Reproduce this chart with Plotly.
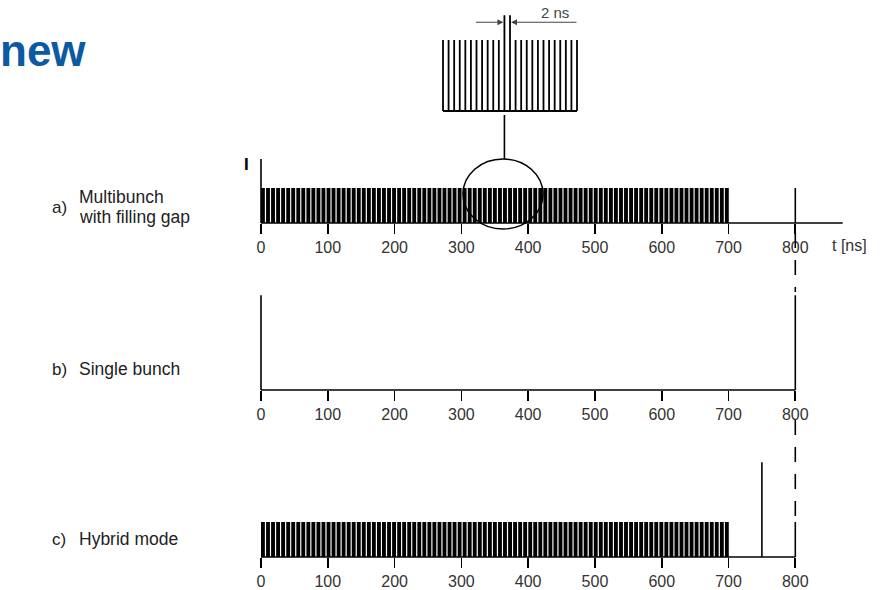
import plotly.graph_objects as go

W, H = 880, 590

# ---------------- data ----------------
bunch_times_ns = [0, 7.6, 15.1, 22.7, 30.2, 37.8, 45.3, 52.9, 60.4, 68.0, 75.5, 83.1, 90.6, 98.2,
                  105.7, 113.3, 120.8, 128.4, 135.9, 143.5, 151.0, 158.6, 166.1, 173.7, 181.2,
                  188.8, 196.3, 203.9, 211.4, 219.0, 226.5, 234.1, 241.6, 249.2, 256.7, 264.3,
                  271.8, 279.4, 286.9, 294.5, 302.0, 309.6, 317.1, 324.7, 332.2, 339.8, 347.3,
                  354.9, 362.4, 370.0, 377.5, 385.1, 392.6, 400.2, 407.7, 415.3, 422.8, 430.4,
                  437.9, 445.5, 453.0, 460.6, 468.1, 475.7, 483.2, 490.8, 498.3, 505.9, 513.4,
                  521.0, 528.5, 536.1, 543.6, 551.2, 558.7, 566.3, 573.8, 581.4, 588.9, 596.5,
                  604.0, 611.6, 619.1, 626.7, 634.2, 641.8, 649.3, 656.9, 664.4, 672.0, 679.5,
                  687.1, 694.6]
bunch_width_ns = 5.8
bunch_height = 1.0
next_turn_ns = 800
single_bunch_ns = [0, 800]
single_height = 2.71
hybrid_single_ns = [750]
axis_end_a_ns = 871
axis_end_bc_ns = 800
i_axis_height = 1.83

tick_vals = [0, 100, 200, 300, 400, 500, 600, 700, 800]
tick_text = ["0", "100", "200", "300", "400", "500", "600", "700", "800"]

inset_ns = [0, 2, 4, 6, 8, 10, 12, 14, 16, 18, 20, 26, 28, 30, 32, 34, 36, 38, 40, 42, 44, 46, 48]
inset_tall_ns = [22, 24]
inset_tall_height = 1.35
inset_dim_y = 1.25

panel_letters = ["a)", "b)", "c)"]
panel_lines = [["Multibunch", "with filling gap"], ["Single bunch"], ["Hybrid mode"]]
title_text = "new"
spacing_label = "2 ns"
time_label = "t [ns]"
current_label = "I"

# ---------------- layout helpers (pixel geometry) ----------------
def px(x):
    return x / W


def py(y):
    return 1 - y / H


X0_PX, X800_PX = 261.0, 795.3
SCALE = (X800_PX - X0_PX) / 800.0
XDOM_PX = (200, 870)
x_range = [(XDOM_PX[0] - X0_PX) / SCALE, (XDOM_PX[1] - X0_PX) / SCALE]
UNIT = 35.0
BASE = {"a": 223.0, "b": 390.0, "c": 557.0}
YR = {"a": [-0.4, 2.1], "b": [-0.4, 2.9], "c": [-0.4, 2.9]}


def ydom(key):
    b = BASE[key]
    lo, hi = YR[key]
    return [py(b - lo * UNIT), py(b - hi * UNIT)]


FONT = "Liberation Sans, Arial, Helvetica, sans-serif"
LW = 1.6

fig = go.Figure()

# panel a bars
fig.add_trace(go.Bar(x=bunch_times_ns, y=[bunch_height] * len(bunch_times_ns), width=bunch_width_ns,
                     offset=0, marker=dict(color="black", line=dict(width=0)), xaxis="x", yaxis="y",
                     hoverinfo="skip"))
# panel c bars
fig.add_trace(go.Bar(x=bunch_times_ns, y=[bunch_height] * len(bunch_times_ns), width=bunch_width_ns,
                     offset=0, marker=dict(color="black", line=dict(width=0)), xaxis="x3", yaxis="y3",
                     hoverinfo="skip"))


def line(xs, ys, xa, ya, width=LW):
    fig.add_trace(go.Scatter(x=xs, y=ys, mode="lines", line=dict(color="black", width=width),
                             xaxis=xa, yaxis=ya, hoverinfo="skip", cliponaxis=False))


# panel a
line([0, axis_end_a_ns], [0, 0], "x", "y")
line([0, 0], [0, i_axis_height], "x", "y")
line([next_turn_ns, next_turn_ns], [0, bunch_height], "x", "y")
# panel b
line([0, axis_end_bc_ns], [0, 0], "x2", "y2")
for t in single_bunch_ns:
    line([t, t], [0, single_height], "x2", "y2")
# panel c
line([0, axis_end_bc_ns], [0, 0], "x3", "y3")
for t in hybrid_single_ns:
    line([t, t], [0, single_height], "x3", "y3")
line([next_turn_ns, next_turn_ns], [0, bunch_height], "x3", "y3")

# inset comb
xs, ys = [], []
for t in inset_ns:
    xs += [t, t, None]
    ys += [0, bunch_height, None]
for t in inset_tall_ns:
    xs += [t, t, None]
    ys += [0, inset_tall_height, None]
line(xs, ys, "x4", "y4", 1.8)
line([inset_ns[0], inset_ns[-1]], [0, 0], "x4", "y4", 1.8)

axis_common = dict(range=x_range, domain=[px(XDOM_PX[0]), px(XDOM_PX[1])], showgrid=False,
                   zeroline=False, showline=False, ticks="outside", ticklen=10, tickwidth=1.6,
                   tickcolor="black", tickvals=tick_vals, ticktext=tick_text,
                   tickfont=dict(family=FONT, size=16, color="#333"), fixedrange=True)
yaxis_common = dict(visible=False, fixedrange=True)

INSET_X0, INSET_SCALE = 443.0, 134.0 / 48.0
INSET_BASE, INSET_UNIT = 111.0, 71.0

fig.update_layout(
    width=W, height=H, margin=dict(l=0, r=0, t=0, b=0),
    paper_bgcolor="white", plot_bgcolor="rgba(0,0,0,0)", showlegend=False, barmode="overlay",
    xaxis=dict(axis_common, anchor="free", position=py(BASE["a"])),
    xaxis2=dict(axis_common, anchor="free", position=py(BASE["b"])),
    xaxis3=dict(axis_common, anchor="free", position=py(BASE["c"])),
    yaxis=dict(yaxis_common, domain=ydom("a"), range=YR["a"], anchor="x"),
    yaxis2=dict(yaxis_common, domain=ydom("b"), range=YR["b"], anchor="x2"),
    yaxis3=dict(yaxis_common, domain=ydom("c"), range=YR["c"], anchor="x3"),
    xaxis4=dict(visible=False, fixedrange=True, anchor="y4",
                domain=[px(425), px(595)],
                range=[(425 - INSET_X0) / INSET_SCALE, (595 - INSET_X0) / INSET_SCALE]),
    yaxis4=dict(visible=False, fixedrange=True, anchor="x4",
                domain=[py(INSET_BASE + 0.1 * INSET_UNIT), py(INSET_BASE - 1.5 * INSET_UNIT)],
                range=[-0.1, 1.5]),
)

# dashed guide at next turn
for y0, y1 in [(233, 292), (420, 521)]:
    fig.add_shape(type="line", xref="x", yref="paper", x0=next_turn_ns, x1=next_turn_ns,
                  y0=py(y0), y1=py(y1), line=dict(color="black", width=1.6, dash="15px,12px"))

# magnifier ellipse and connector
fig.add_shape(type="circle", xref="paper", yref="paper", x0=px(463), x1=px(543), y0=py(229), y1=py(159),
              line=dict(color="black", width=1.6))
fig.add_shape(type="line", xref="x4", yref="paper", x0=inset_tall_ns[0], x1=inset_tall_ns[0],
              y0=py(115), y1=py(159), line=dict(color="black", width=1.6))

# dimension arrows
fig.add_annotation(x=inset_tall_ns[0], y=inset_dim_y, xref="x4", yref="y4", ax=-30, ay=0, text="",
                   showarrow=True, arrowhead=2, arrowsize=1, arrowwidth=1.2, arrowcolor="#444",
                   standoff=1)
fig.add_annotation(x=inset_tall_ns[1], y=inset_dim_y, xref="x4", yref="y4", ax=68, ay=0, text="",
                   showarrow=True, arrowhead=2, arrowsize=1, arrowwidth=1.2, arrowcolor="#444",
                   standoff=1)
fig.add_annotation(x=px(555), y=py(13), xref="paper", yref="paper", text=spacing_label, showarrow=False,
                   font=dict(family=FONT, size=15, color="#444"), xanchor="center", yanchor="middle")

# texts
fig.add_annotation(x=px(-2), y=py(50), xref="paper", yref="paper", text="<b>%s</b>" % title_text,
                   showarrow=False, font=dict(family=FONT, size=44, color="#0b5aa2"),
                   xanchor="left", yanchor="middle")
fig.add_annotation(x=px(246), y=py(164), xref="paper", yref="paper", text="<b>%s</b>" % current_label,
                   showarrow=False, font=dict(family=FONT, size=17, color="black"),
                   xanchor="center", yanchor="middle")
fig.add_annotation(x=px(849), y=py(245), xref="paper", yref="paper", text=time_label, showarrow=False,
                   font=dict(family=FONT, size=16, color="#333"), xanchor="center", yanchor="middle")

letter_y = [207, 369, 539]
line_y = [[197, 217], [369], [539]]
for k in range(3):
    fig.add_annotation(x=px(50), y=py(letter_y[k]), xref="paper", yref="paper", text=panel_letters[k],
                       showarrow=False, font=dict(family=FONT, size=17, color="#222"),
                       xanchor="left", yanchor="middle")
    for txt, yy in zip(panel_lines[k], line_y[k]):
        fig.add_annotation(x=px(77), y=py(yy), xref="paper", yref="paper", text=txt, showarrow=False,
                           font=dict(family=FONT, size=17.5, color="#222"), xanchor="left",
                           yanchor="middle")

fig.write_html("out.html", config={"displayModeBar": False, "staticPlot": True},
               post_script="document.body.style.margin='0px';")
